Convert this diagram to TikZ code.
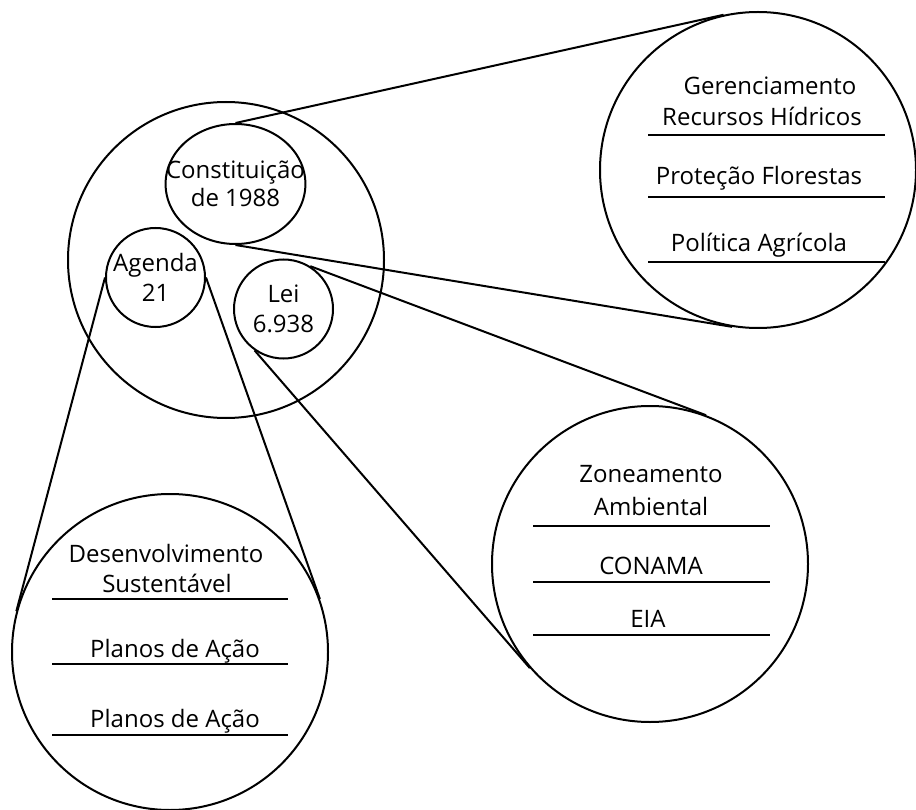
\documentclass[tikz,border=0pt]{standalone}
\usepackage{fontspec}
\setmainfont{Open Sans}
\usetikzlibrary{shapes.geometric,calc}

\begin{document}
\begin{tikzpicture}[x=1pt, y=-1pt, line width=2pt,
                    big node/.style={circle,draw,minimum size=316pt,inner sep=0pt},
                    small node/.style={circle,draw,minimum size=99pt,inner sep=-12pt,align=center,font=\fontsize{24}{30}\selectfont},
                    item/.style={anchor=base,inner sep=0pt,font=\fontsize{24}{29}\selectfont}]

  \useasboundingbox (0,0) rectangle (916,810);

  \node[big node] (m) at (226,260) {};
  \node[big node] (r) at (758,170) {};
  \node[big node] (z) at (650,564) {};
  \node[big node] (d) at (170,652) {};

  \node[small node, ellipse, inner sep=-20pt, minimum width=131pt, minimum height=120pt,
        font=\fontsize{24}{28}\selectfont] (c) at (235.5,184) {Constituição\\de 1988};
  \node[small node] (a) at (155.5,277.5) {\raisebox{-3pt}{Agenda}\\\raisebox{-3pt}{21}};
  \node[small node] (l) at (283.5,309) {Lei\\6.938};

  \path (c.north) edge (tangent cs:node=r,point={(c.north)},solution=2)
        (c.south) edge (tangent cs:node=r,point={(c.south)},solution=1)

        (l.58)  edge (tangent cs:node=z,point={(l.58)},solution=2)
        (l.235) edge (tangent cs:node=z,point={(l.235)},solution=1)

        (a.west) edge (tangent cs:node=d,point={(a.west)},solution=1)
        (a.east) edge (tangent cs:node=d,point={(a.east)},solution=2);

  \node[item] (r1) at (770,95)  {Gerenciamento};
  \node[item] (r2) at (762,126) {Recursos Hídricos};
  \node[item] (r3) at (759,185) {Proteção Florestas};
  \node[item] (r4) at (759,252) {Política Agrícola};
  \draw (648,135) -- (885,135);
  \draw (648,197) -- (885,197);
  \draw (648,262) -- (885,262);

  \node[item] (z1) at (651,482) {Zoneamento};
  \node[item] (z2) at (651,515) {Ambiental};
  \node[item] (z3) at (651,574) {CONAMA};
  \node[item] (z4) at (648,627) {EIA};
  \draw (533,526) -- (770,526);
  \draw (533,582) -- (770,582);
  \draw (533,635) -- (770,635);

  \node[item] (d1) at (166,562) {Desenvolvimento};
  \node[item] (d2) at (167,592) {Sustentável};
  \node[item] (d3) at (175,657) {Planos de Ação};
  \node[item] (d4) at (175,727) {Planos de Ação};
  \draw (52,599) -- (288,599);
  \draw (52,664) -- (288,664);
  \draw (52,735) -- (288,735);

\end{tikzpicture}
\end{document}
